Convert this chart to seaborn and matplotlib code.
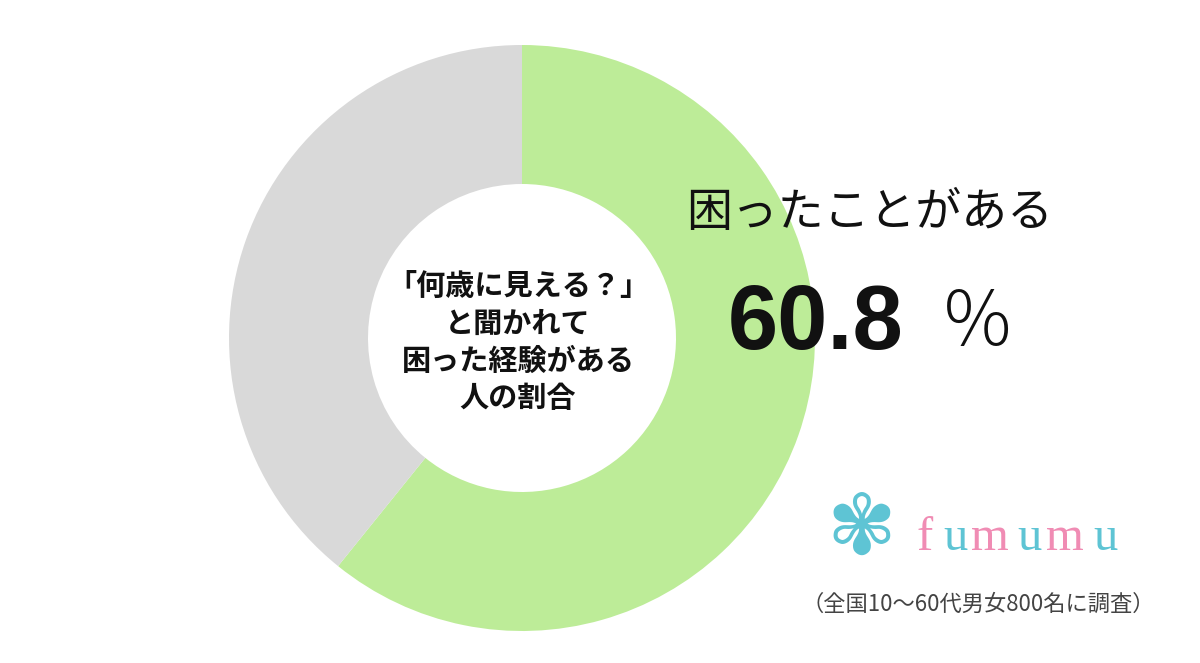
import matplotlib
matplotlib.use("Agg")
import matplotlib.pyplot as plt
import seaborn as sns

# データ
labels = ["困ったことがある", "ない"]
values = [60.8, 39.2]
colors = ["#BDEC98", "#D9D9D9"]

center_title = "「何歳に見える？」\nと聞かれて\n困った経験がある\n人の割合"
highlight_label = labels[0]
highlight_value = values[0]
note = "（全国10〜60代男女800名に調査）"
brand = "fumumu"
brand_colors = ["#F08CB4", "#5EC4D4"]

sns.set_theme(style="white")
plt.rcParams["font.family"] = ["Noto Sans CJK JP", "DejaVu Sans"]

W, H = 1200, 663
fig = plt.figure(figsize=(W / 100, H / 100), dpi=100)
ax = fig.add_axes([0, 0, 1, 1])

# ドーナツ
cx, cy, r = 522, H - 338, 293
ax.pie(values, colors=colors, startangle=90, counterclock=False,
       center=(cx, cy), radius=r, frame=True,
       wedgeprops=dict(width=r - 154, linewidth=0))
ax.set_xlim(0, W)
ax.set_ylim(0, H)
ax.set_aspect("equal")
ax.axis("off")

# 中央テキスト
ax.text(cx - 4, H - 342, center_title, ha="center", va="center",
        fontsize=21, fontweight="bold", color="#111111", linespacing=1.3)

# ラベルと値
ax.text(686, H - 213, highlight_label, ha="left", va="center",
        fontsize=33, color="#111111")
ax.text(728, H - 325, f"{highlight_value:.1f}", ha="left", va="center",
        fontsize=65, fontweight="bold", color="#111111",
        family=["Liberation Sans", "DejaVu Sans"])
ax.text(940, H - 325, "％", ha="left", va="center",
        fontsize=54, fontweight="light", color="#111111")

# ロゴ
ax.text(861, H - 530, "✾", ha="center", va="center", fontsize=60,
        color="#5EC4D4", family=["DejaVu Sans"])
xs = [925, 955, 990, 1029, 1065, 1105]
for i, ch in enumerate(brand):
    ax.text(xs[i], H - 550, ch, ha="center", va="baseline", fontsize=35,
            color=brand_colors[i % 2], family=["Liberation Serif"])

# 注記
ax.text(978, H - 604, note, ha="center", va="center", fontsize=16,
        color="#444444")

fig.savefig("out.png", dpi=100, facecolor="white")
